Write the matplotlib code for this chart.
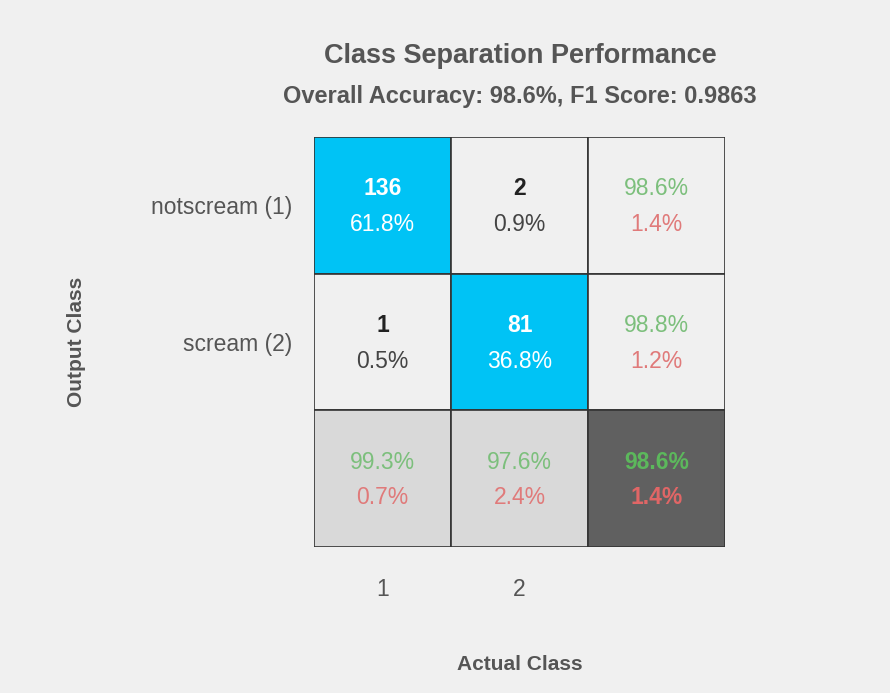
import matplotlib
matplotlib.use('Agg')
import matplotlib.pyplot as plt
from matplotlib.patches import Rectangle

plt.rcParams['font.family'] = ['Liberation Sans', 'DejaVu Sans']

class_names = ['notscream (1)', 'scream (2)']
tick_labels = ['1', '2']
counts = [[136, 2], [1, 81]]
cell_pct = [[61.8, 0.9], [0.5, 36.8]]
row_acc = [98.6, 98.8]      # precision per output class
col_acc = [99.3, 97.6]      # recall per actual class
overall_acc = 98.6
f1 = 0.9863

BG = '#f0f0f0'
CYAN = '#00c3f5'
LIGHT = '#d9d9d9'
DARK = '#606060'
GREEN = '#7cbf7c'
RED = '#e07a7a'
TXT = '#555555'
FS = 16.5

fig = plt.figure(figsize=(8.9, 6.93), dpi=100, facecolor=BG)
W, H = 890, 693
ax = fig.add_axes([314 / W, (H - 547) / H, 411 / W, 410 / H])
ax.set_xlim(0, 3)
ax.set_ylim(3, 0)
ax.set_facecolor(BG)

n = len(class_names)
for i in range(n + 1):
    for j in range(n + 1):
        if i < n and j < n:
            fc = CYAN if i == j else BG
        elif i == n and j == n:
            fc = DARK
        else:
            fc = LIGHT if i == n else BG
        ax.add_patch(Rectangle((j, i), 1, 1, facecolor=fc, edgecolor='#333333', lw=1.2))

for i in range(n):
    for j in range(n):
        c = 'white' if i == j else '#222222'
        c2 = 'white' if i == j else '#444444'
        ax.text(j + 0.5, i + 0.38, str(counts[i][j]), ha='center', va='center',
                fontsize=FS, fontweight='bold', color=c)
        ax.text(j + 0.5, i + 0.64, '%.1f%%' % cell_pct[i][j], ha='center', va='center',
                fontsize=FS, color=c2)

for i in range(n):
    ax.text(n + 0.5, i + 0.38, '%.1f%%' % row_acc[i], ha='center', va='center', fontsize=FS, color=GREEN)
    ax.text(n + 0.5, i + 0.64, '%.1f%%' % (100 - row_acc[i]), ha='center', va='center', fontsize=FS, color=RED)
for j in range(n):
    ax.text(j + 0.5, n + 0.38, '%.1f%%' % col_acc[j], ha='center', va='center', fontsize=FS, color=GREEN)
    ax.text(j + 0.5, n + 0.64, '%.1f%%' % (100 - col_acc[j]), ha='center', va='center', fontsize=FS, color=RED)
ax.text(n + 0.5, n + 0.38, '%.1f%%' % overall_acc, ha='center', va='center', fontsize=FS,
        fontweight='bold', color='#5cb85c')
ax.text(n + 0.5, n + 0.64, '%.1f%%' % (100 - overall_acc), ha='center', va='center', fontsize=FS,
        fontweight='bold', color='#e06666')

ax.set_xticks([0.5, 1.5])
ax.set_xticklabels(tick_labels, fontsize=FS, color=TXT)
ax.set_yticks([0.5, 1.5])
ax.set_yticklabels(class_names, fontsize=FS, color=TXT)
ax.tick_params(axis='y', length=0, pad=16)
ax.tick_params(axis='x', length=0, pad=22)
for s in ax.spines.values():
    s.set_visible(False)

fig.text(520 / W, 1 - 56 / H, 'Class Separation Performance', ha='center', va='center',
         fontsize=19.5, fontweight='bold', color=TXT)
fig.text(520 / W, 1 - 96 / H, 'Overall Accuracy: %.1f%%, F1 Score: %.4f' % (overall_acc, f1),
         ha='center', va='center', fontsize=17, fontweight='bold', color=TXT)
fig.text(520 / W, 1 - 664 / H, 'Actual Class', ha='center', va='center',
         fontsize=15, fontweight='bold', color=TXT)
fig.text(76 / W, 1 - 342 / H, 'Output Class', ha='center', va='center', rotation=90,
         fontsize=15, fontweight='bold', color=TXT)

fig.savefig('out.png', dpi=100, facecolor=BG)
